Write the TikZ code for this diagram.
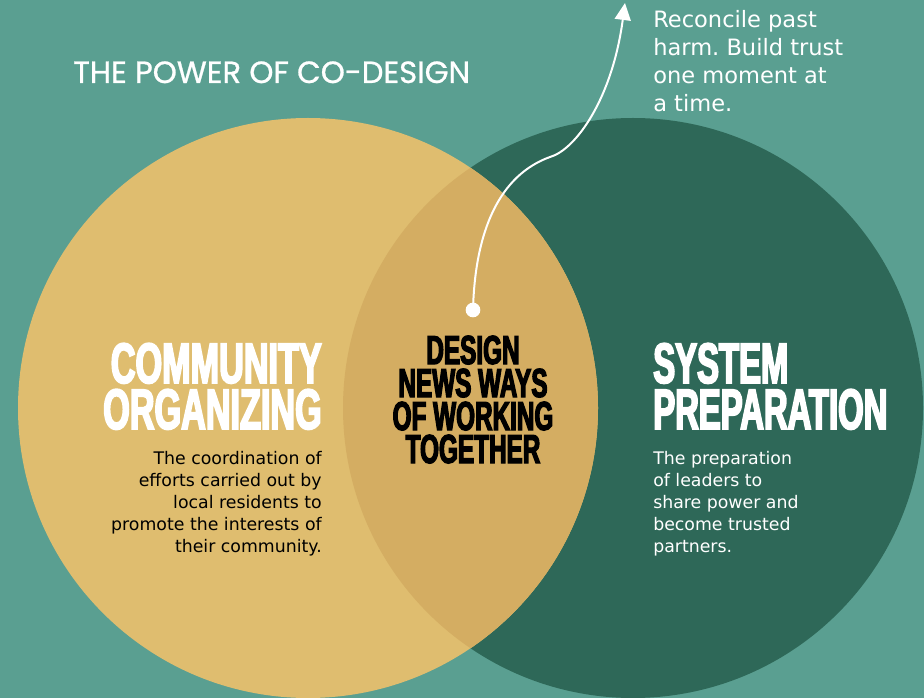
\documentclass[tikz,border=0pt]{standalone}
\usepackage{fontspec}
\usetikzlibrary{arrows.meta}
\setmainfont{DejaVu Sans}
\frenchspacing
\newfontfamily\headfont[FakeStretch=0.6,BoldFeatures={FakeBold=3}]{Liberation Sans}
\newfontfamily\sysheadfont[FakeStretch=0.576,BoldFeatures={FakeBold=3}]{Liberation Sans}
\newfontfamily\titlefont[FakeBold=0.8]{Poppins}
\definecolor{bgteal}{HTML}{5A9F91}
\definecolor{sand}{HTML}{DFBD6F}
\definecolor{pine}{HTML}{2E6858}
\definecolor{overlap}{HTML}{D4AD62}
\tikzset{
  venn/.style={circle, inner sep=0pt, minimum size=435pt},
  heading/.style={inner sep=0pt, text=white, font=\headfont\bfseries\fontsize{42.75}{34.5}\selectfont},
  sysheading/.style={inner sep=0pt, text=white, font=\sysheadfont\bfseries\fontsize{42.75}{34.5}\selectfont},
  midheading/.style={inner sep=0pt, text=black, align=center, font=\headfont\bfseries\fontsize{30.4}{24.75}\selectfont},
  bodytext/.style={inner sep=0pt, font=\fontsize{13}{16.5}\selectfont},
  notetext/.style={inner sep=0pt, text=white, align=left, font=\fontsize{16.9}{21}\selectfont},
  connector/.style={draw=white, line width=1.5pt, -{Triangle[length=12.75pt,width=12pt]}}
}
\begin{document}
\begin{tikzpicture}[x=0.75pt,y=-0.75pt]
\fill[bgteal] (0,0) rectangle (924,698);
\useasboundingbox (0,0) rectangle (924,698);
\clip (0,0) rectangle (924,698);
% circles
\node[venn, fill=pine] (sys) at (633,408) {};
\node[venn, fill=sand] (com) at (308,408) {};
\begin{scope}
  \clip (308,408) circle[radius=290];
  \fill[overlap] (633,408) circle[radius=290];
\end{scope}
% title
\node[inner sep=0pt, anchor=base west, text=white, font=\titlefont\fontsize{23}{26}\selectfont] (title) at (73,83) {THE POWER OF CO-DESIGN};
% headings (anchor at baseline of last line)
\node[heading, anchor=base east, align=right] (comh) at (322,429) {COMMUNITY\\ORGANIZING};
\node[sysheading, anchor=base west, align=left] (sysh) at (653,429) {SYSTEM\\PREPARATION};
\node[midheading, anchor=base] (mid) at (473,463) {DESIGN\\NEWS WAYS\\OF WORKING\\TOGETHER};
% body texts
\node[bodytext, anchor=base east, align=right, text=black] (comb) at (322,552) {The coordination of\\efforts carried out by\\local residents to\\promote the interests of\\their community.};
\node[bodytext, anchor=base west, align=left, text=white] (sysb) at (653,552) {The preparation\\of leaders to\\share power and\\become trusted\\partners.};
% note
\node[notetext, anchor=base west] (note) at (653,112) {Reconcile past\\harm. Build trust\\one moment at\\a time.};
% connector
\node[circle, fill=white, inner sep=0pt, minimum size=11pt] (dot) at (473,310) {};
\coordinate (kink) at (550,157);
\coordinate (tip) at (625,3);
\draw[connector] (dot.center) .. controls (475,230) and (500,175) .. (kink) .. controls (575,150) and (612,100) .. (tip);
\end{tikzpicture}
\end{document}
